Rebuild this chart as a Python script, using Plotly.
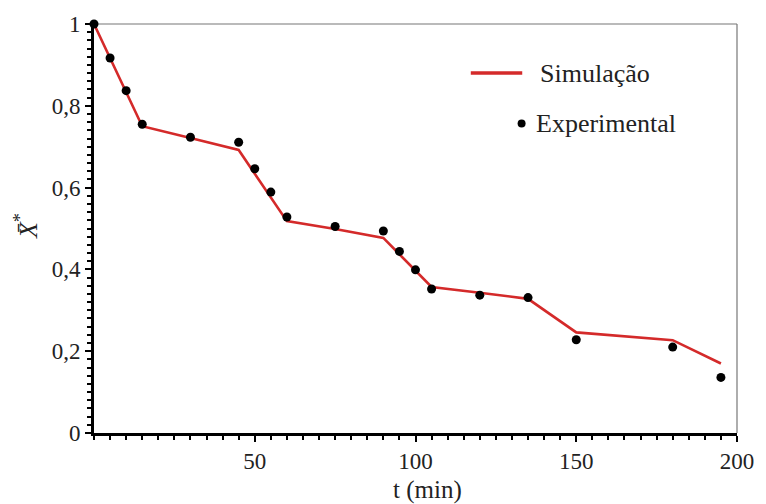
import plotly.graph_objects as go

# Experimental drying data (dimensionless moisture content vs time)
t_exp = [0, 5, 10, 15, 30, 45, 50, 55, 60, 75, 90, 95, 100, 105, 120, 135, 150, 180, 195]
x_exp = [1.0, 0.917, 0.837, 0.755, 0.723, 0.711, 0.646, 0.589, 0.528, 0.505,
         0.494, 0.444, 0.399, 0.352, 0.337, 0.331, 0.228, 0.210, 0.136]

# Simulated curve
t_sim = [0, 5, 10, 15, 30, 45, 50, 55, 60, 75, 90, 95, 100, 105, 120, 135, 150, 180, 195]
x_sim = [1.0, 0.917, 0.836, 0.750, 0.721, 0.692, 0.634, 0.576, 0.518, 0.499,
         0.477, 0.437, 0.397, 0.357, 0.343, 0.328, 0.246, 0.227, 0.170]

x_tickvals = [50, 100, 150, 200]
x_ticktext = ["50", "100", "150", "200"]
y_tickvals = [0, 0.2, 0.4, 0.6, 0.8, 1.0]
y_ticktext = ["0", "0,2", "0,4", "0,6", "0,8", "1"]

RED = "#d42a2a"
FONT = "Liberation Serif"
TXT = "#222222"

fig = go.Figure()
fig.add_trace(go.Scatter(x=t_sim, y=x_sim, mode="lines", name="Simulação",
                         line=dict(color=RED, width=2.6), cliponaxis=False,
                         showlegend=False))
fig.add_trace(go.Scatter(x=t_exp, y=x_exp, mode="markers", name="Experimental",
                         marker=dict(color="black", size=9), cliponaxis=False,
                         showlegend=False))

axis_common = dict(showgrid=False, zeroline=False, showline=True,
                   linecolor="black", linewidth=2.6, ticks="outside",
                   tickcolor="black", tickwidth=2, ticklen=6,
                   tickfont=dict(family=FONT, size=23, color=TXT))

fig.update_xaxes(range=[0, 200], tickvals=x_tickvals, ticktext=x_ticktext,
                 minor=dict(tick0=0, dtick=5, ticks="outside", ticklen=4,
                            tickwidth=1.5, tickcolor="black"),
                 **axis_common)
fig.update_yaxes(range=[0, 1], tickvals=y_tickvals, ticktext=y_ticktext,
                 minor=dict(tick0=0, dtick=0.02, ticks="outside", ticklen=4,
                            tickwidth=1.5, tickcolor="black"),
                 **axis_common)

# thin frame on the top and right sides
frame = dict(type="line", xref="paper", yref="paper",
             line=dict(color="#777777", width=1.2), layer="below")
fig.add_shape(x0=0, x1=1, y0=1, y1=1, **frame)
fig.add_shape(x0=1, x1=1, y0=0, y1=1, **frame)

# legend
fig.add_shape(type="line", xref="paper", yref="paper", x0=0.586, x1=0.666,
              y0=0.880, y1=0.880, line=dict(color=RED, width=3.5))
fig.add_shape(type="circle", xref="paper", yref="paper", xsizemode="pixel",
              ysizemode="pixel", xanchor=0.665, yanchor=0.757,
              x0=-4, x1=4, y0=-4, y1=4, fillcolor="black", line=dict(width=0))
fig.add_annotation(x=0.690, y=0.880, xref="paper", yref="paper", text="Simulação",
                   showarrow=False, xanchor="left", yanchor="middle",
                   font=dict(family=FONT, size=26, color=TXT))
fig.add_annotation(x=0.684, y=0.757, xref="paper", yref="paper", text="Experimental",
                   showarrow=False, xanchor="left", yanchor="middle",
                   font=dict(family=FONT, size=26, color=TXT))

# axis titles
fig.add_annotation(x=0.518, y=-0.14, xref="paper", yref="paper", text="t (min)",
                   showarrow=False, xanchor="center", yanchor="middle",
                   font=dict(family=FONT, size=25, color=TXT))
fig.add_annotation(x=-0.105, y=0.507, xref="paper", yref="paper",
                   text="<i>X\u0304</i><sup>*</sup>", textangle=-90,
                   showarrow=False, xanchor="center", yanchor="middle",
                   font=dict(family=FONT, size=26, color=TXT))

fig.update_layout(width=766, height=504, plot_bgcolor="white", paper_bgcolor="white",
                  margin=dict(l=94, r=22, t=23, b=71), showlegend=False)

fig.write_html("out.html")
